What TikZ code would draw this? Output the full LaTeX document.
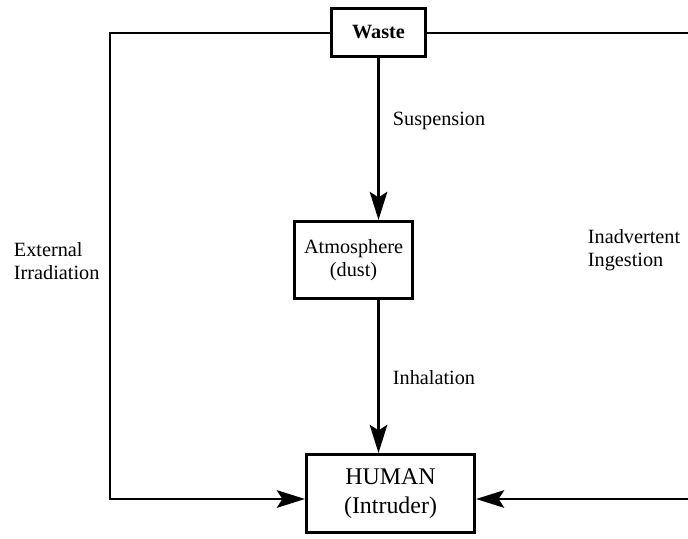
\documentclass[tikz,border=0pt]{standalone}
\usepackage{fontspec}
\setmainfont{Liberation Serif}
\usetikzlibrary{arrows.meta, positioning}

\begin{document}
\begin{tikzpicture}[x=0.025cm, y=-0.025cm,
    box/.style={draw, line width=2.2pt, align=center, inner sep=0pt},
    flow/.style={line width=1.8pt, -{Stealth[length=20pt, width=12.5pt, inset=4pt]}},
    lbl/.style={anchor=west, align=left, font=\fontsize{14.4}{16.4}\selectfont}]
  \useasboundingbox (0,0) rectangle (688,538);

  % boxes
  \node[box, minimum width=2.35cm, minimum height=1.2cm,
        font=\fontsize{14.4}{16.4}\selectfont\bfseries] (waste) at (378.5,32.5) {Waste};
  \node[box, minimum width=2.95cm, minimum height=1.925cm,
        font=\fontsize{14.4}{16.4}\selectfont] (atmos) at (353.5,260) {Atmosphere\\(dust)};
  \node[box, minimum width=4.2cm, minimum height=1.95cm,
        font=\fontsize{17}{20.5}\selectfont] (human) at (390.5,493.5) {HUMAN\\(Intruder)};

  % corners of the outer paths
  \coordinate (ltop) at (110,33);
  \coordinate (lbot) at (110,499);
  \coordinate (rtop) at (688,33);
  \coordinate (rbot) at (688,499);

  % pathways
  \draw[flow] (waste) -- (atmos.north -| waste);
  \draw[flow] (atmos.south -| waste) -- (human.north -| waste);
  \draw[flow] (waste.west |- ltop) -- (ltop) -- (lbot) -- (lbot -| human.west);
  \draw[line width=1.8pt] (waste.east |- rtop) -- (rtop);
  \draw[flow] (rbot) -- (rbot -| human.east);

  % labels
  \node[lbl] (susp) at (388,121) {Suspension};
  \node[lbl] (inhal) at (388,378) {Inhalation};
  \node[lbl] (extirr) at (9,261) {External\\Irradiation};
  \node[lbl] (ingest) at (583,250) {Inadvertent\\Ingestion};
\end{tikzpicture}
\end{document}
